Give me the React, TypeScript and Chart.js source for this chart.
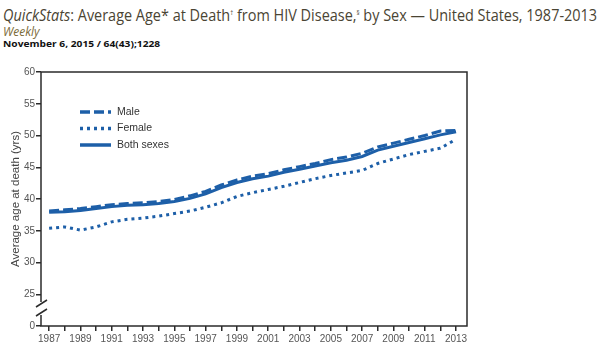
import React, { useEffect, useLayoutEffect, useRef } from "react";
import { Chart, registerables } from "chart.js";

Chart.register(...registerables);

const years = [1987, 1988, 1989, 1990, 1991, 1992, 1993, 1994, 1995, 1996, 1997, 1998, 1999, 2000, 2001, 2002, 2003, 2004, 2005, 2006, 2007, 2008, 2009, 2010, 2011, 2012, 2013];
const maleValues = [38.1, 38.3, 38.5, 38.8, 39.1, 39.3, 39.4, 39.6, 39.9, 40.5, 41.2, 42.2, 43.0, 43.6, 44.0, 44.6, 45.1, 45.6, 46.2, 46.6, 47.2, 48.2, 48.8, 49.4, 50.0, 50.7, 50.8];
const femaleValues = [35.4, 35.6, 35.1, 35.6, 36.4, 36.8, 37.0, 37.3, 37.7, 38.1, 38.7, 39.4, 40.4, 41.0, 41.5, 42.0, 42.6, 43.2, 43.7, 44.1, 44.5, 45.6, 46.3, 47.0, 47.5, 48.0, 49.4];
const bothValues = [37.9, 38.0, 38.2, 38.5, 38.8, 39.0, 39.1, 39.3, 39.6, 40.1, 40.8, 41.8, 42.6, 43.2, 43.6, 44.2, 44.7, 45.2, 45.7, 46.1, 46.7, 47.7, 48.3, 48.9, 49.5, 50.1, 50.6];
const yTickValues = [20, 25, 30, 35, 40, 45, 50, 55, 60];
const yTickLabels = ["0", "25", "30", "35", "40", "45", "50", "55", "60"];
const seriesNames = ["Male", "Female", "Both sexes"];

const BLUE = "#1d5fa8";
const FRAME = "#2b2b2b";
const FONT = "'Liberation Sans', Arial, sans-serif";
const TITLE_FONT = "'Open Sans', 'DejaVu Sans', sans-serif";

const framePlugin = {
  id: "frame",
  afterDraw(chart: any) {
    const { ctx, chartArea } = chart;
    const { left, right, top, bottom } = chartArea;
    ctx.save();
    ctx.strokeStyle = FRAME;
    ctx.lineWidth = 1.5;
    ctx.beginPath();
    ctx.moveTo(left, top);
    ctx.lineTo(right, top);
    ctx.lineTo(right, bottom);
    ctx.lineTo(left, bottom);
    ctx.lineTo(left, bottom - 11);
    ctx.moveTo(left, top);
    ctx.lineTo(left, bottom - 24);
    ctx.stroke();
    ctx.beginPath();
    ctx.moveTo(left - 5, bottom - 19);
    ctx.lineTo(left + 6, bottom - 26);
    ctx.moveTo(left - 5, bottom - 10);
    ctx.lineTo(left + 6, bottom - 17);
    ctx.stroke();
    ctx.restore();
  },
};

const legendPlugin = {
  id: "customLegend",
  afterDraw(chart: any) {
    const { ctx } = chart;
    ctx.save();
    chart.data.datasets.forEach((ds: any, i: number) => {
      const y = 112 + i * 16.5;
      ctx.strokeStyle = ds.borderColor;
      ctx.lineWidth = 3.5;
      ctx.setLineDash(ds.borderDash || []);
      ctx.beginPath();
      ctx.moveTo(80, y);
      ctx.lineTo(111, y);
      ctx.stroke();
      ctx.setLineDash([]);
      ctx.fillStyle = "#333";
      ctx.font = `10.5px ${FONT}`;
      ctx.textBaseline = "middle";
      ctx.textAlign = "left";
      ctx.fillText(ds.label, 117, y);
    });
    ctx.restore();
  },
};

function FitText({ width, style, children }: any) {
  const ref = useRef<HTMLDivElement>(null);
  useLayoutEffect(() => {
    const el = ref.current;
    if (!el) return;
    el.style.transform = "none";
    const w = el.scrollWidth;
    if (w > 0) el.style.transform = `scaleX(${width / w})`;
  }, [width]);
  return (
    <div
      ref={ref}
      style={{ ...style, whiteSpace: "nowrap", display: "inline-block", transformOrigin: "0 0", position: "absolute" }}
    >
      {children}
    </div>
  );
}

export default function App() {
  const canvasRef = useRef<HTMLCanvasElement>(null);

  useEffect(() => {
    if (!canvasRef.current) return;
    const chart = new Chart(canvasRef.current, {
      type: "line",
      data: {
        datasets: [
          {
            label: seriesNames[0],
            data: years.map((y, i) => ({ x: y, y: maleValues[i] })),
            borderColor: BLUE,
            borderWidth: 3,
            borderDash: [10, 4],
            pointRadius: 0,
            tension: 0,
          },
          {
            label: seriesNames[1],
            data: years.map((y, i) => ({ x: y, y: femaleValues[i] })),
            borderColor: BLUE,
            borderWidth: 3,
            borderDash: [3, 4],
            pointRadius: 0,
            tension: 0,
          },
          {
            label: seriesNames[2],
            data: years.map((y, i) => ({ x: y, y: bothValues[i] })),
            borderColor: BLUE,
            borderWidth: 3,
            pointRadius: 0,
            tension: 0,
          },
        ],
      },
      options: {
        animation: false,
        responsive: false,
        maintainAspectRatio: false,
        layout: { padding: { top: 72, right: 133, bottom: 0, left: 0 } },
        plugins: { legend: { display: false }, tooltip: { enabled: false }, title: { display: false } },
        scales: {
          x: {
            type: "linear",
            min: 1986.48,
            max: 2013.7,
            afterBuildTicks: (scale: any) => {
              scale.ticks = years.map((v) => ({ value: v }));
            },
            afterFit: (scale: any) => {
              scale.height = 24;
            },
            ticks: {
              autoSkip: false,
              maxRotation: 0,
              padding: 2,
              color: "#555",
              font: { family: FONT, size: 10 },
              callback: (v: any) => (Number(v) % 2 === 1 ? String(v) : ""),
            },
            grid: { drawOnChartArea: false, drawTicks: true, tickLength: 5, color: FRAME, lineWidth: 1.5 },
            border: { display: false },
          },
          y: {
            min: 20,
            max: 60,
            afterBuildTicks: (scale: any) => {
              scale.ticks = yTickValues.map((v) => ({ value: v }));
            },
            afterFit: (scale: any) => {
              scale.width = 41;
            },
            ticks: {
              padding: 1,
              color: "#555",
              font: { family: FONT, size: 10 },
              callback: (v: any) => {
                const idx = yTickValues.indexOf(Number(v));
                return idx >= 0 ? yTickLabels[idx] : "";
              },
            },
            title: {
              display: true,
              text: "Average age at death (yrs)",
              color: "#444",
              font: { family: FONT, size: 11.5 },
              padding: { top: 9, bottom: 0 },
            },
            grid: { drawOnChartArea: false, drawTicks: true, tickLength: 5, color: FRAME, lineWidth: 1.5 },
            border: { display: false },
          },
        },
      },
      plugins: [framePlugin, legendPlugin],
    } as any);
    return () => chart.destroy();
  }, []);

  return (
    <div style={{ position: "fixed", left: 0, top: 0, width: 600, height: 350, background: "#fff", overflow: "hidden" }}>
      <FitText width={594} style={{ left: 3, top: 2, fontFamily: TITLE_FONT, fontSize: 17, color: "#4a4433", lineHeight: "22px" }}>
        <i>QuickStats</i>: Average Age* at Death<sup style={{ fontSize: 7, verticalAlign: "6px" }}>†</sup> from HIV Disease,<sup style={{ fontSize: 7, verticalAlign: "6px" }}>§</sup> by Sex — United States, 1987-2013
      </FitText>
      <FitText width={37} style={{ left: 3, top: 24, fontFamily: TITLE_FONT, fontSize: 12, fontStyle: "italic", color: "#7b6a38", lineHeight: "16px" }}>
        Weekly
      </FitText>
      <FitText width={157} style={{ left: 3, top: 38, fontFamily: TITLE_FONT, fontSize: 9.5, fontWeight: "bold", color: "#111", lineHeight: "12px" }}>
        November 6, 2015 / 64(43);1228
      </FitText>
      <canvas ref={canvasRef} width={600} height={350} style={{ position: "absolute", left: 0, top: 0, width: 600, height: 350 }} />
    </div>
  );
}
